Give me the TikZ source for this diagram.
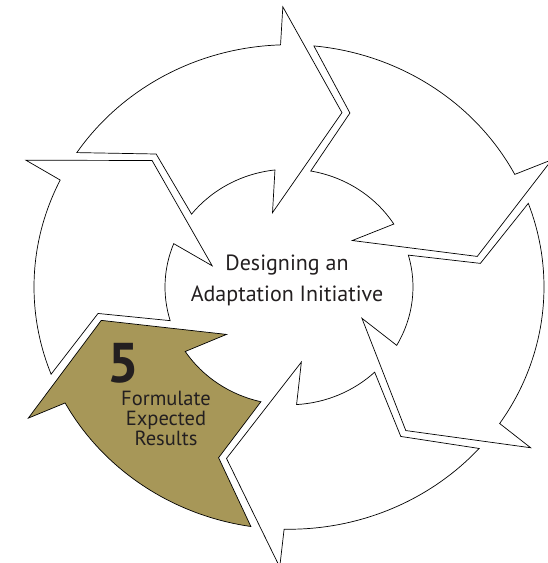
\documentclass[tikz,border=0pt]{standalone}
\usepackage{fontspec}
\setmainfont{PT Sans}
\usepackage{xcolor}
\usetikzlibrary{positioning}

\definecolor{olivestep}{RGB}{167,151,88}
\definecolor{inkgrey}{RGB}{35,31,32}

\begin{document}
\begin{tikzpicture}[
  x=1pt, y=1pt,
  every node/.style={text=inkgrey, inner sep=0pt},
  segment/.style={draw=black, line width=0.7pt, line join=miter},
  centretext/.style={align=center, font=\fontsize{22}{31.6}\selectfont},
  bignum/.style={font=\fontsize{56}{56}\selectfont\bfseries},
  steptext/.style={align=center, font=\fontsize{20.5}{19.7}\selectfont}
]

\useasboundingbox (0,0) rectangle (548,563);
\clip (0,0) rectangle (548,563);

% Cycle segments: tip angle / tip angle of the segment before / fill
\begin{scope}[shift={(289,276)}, yscale=0.95]
\foreach \tip/\prev/\col in {9.7/73.9/white, 73.9/135.8/white, 135.8/190.6/white,
                             190.6/250.9/olivestep, 250.9/307.7/white, 307.7/369.7/white}
  \draw[segment, fill=\col]
    ({\prev+10.5}:255pt) arc[start angle=\prev+10.5, end angle=\tip+18, radius=255pt]
    -- ({\tip+17.3}:295pt) -- (\tip:191pt) -- ({\tip+28}:80pt) -- ({\tip+22.6}:124pt)
    arc[start angle=\tip+22.6, end angle=\prev+6, radius=124pt]
    -- ({\prev-2.3}:193pt) -- cycle;
\end{scope}

% Labels
\node[centretext] (centre) at (287,282.5) {Designing an\\Adaptation Initiative};
\node[bignum] (num5) at (123.5,200) {5};
\node[steptext] (step5) at (166,144.5) {Formulate\\Expected\\Results};

\end{tikzpicture}
\end{document}
